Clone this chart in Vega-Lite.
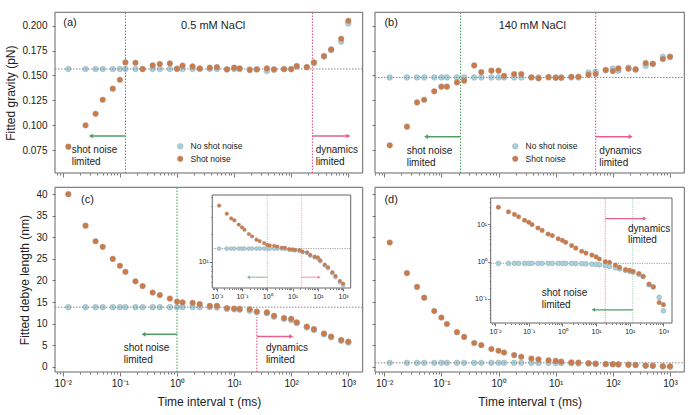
{
"$schema": "https://vega.github.io/schema/vega-lite/v6.json",
"width": 699, "height": 415, "padding": 0, "autosize": {"type": "none"},
"background": "white",
"config": {
  "font": "Liberation Sans",
  "view": {"stroke": null},
  "axis": {"grid": false, "domain": false, "tickColor": "#555", "tickWidth": 0.8, "labelColor": "#222", "titleColor": "#222", "titleFontWeight": "normal", "labelFontSize": 10, "titleFontSize": 12, "labelFont": "Liberation Sans", "titleFont": "Liberation Sans", "labelOverlap": false, "labelFlush": false},
  "text": {"font": "Liberation Sans", "color": "#222"}
},
"datasets": {
  "a": [
    {"tau":0.0125,"no":0.1565,"shot":0.0784},{"tau":0.025,"no":0.1565,"shot":0.0998},{"tau":0.0375,"no":0.1565,"shot":0.1115},{"tau":0.05,"no":0.1565,"shot":0.1256},{"tau":0.075,"no":0.1565,"shot":0.1367},{"tau":0.1,"no":0.1565,"shot":0.1457},{"tau":0.125,"no":0.1565,"shot":0.1631},{"tau":0.1875,"no":0.1565,"shot":0.1628},{"tau":0.25,"no":0.1565,"shot":0.1564},{"tau":0.375,"no":0.1565,"shot":0.1601},{"tau":0.5,"no":0.1565,"shot":0.1615},{"tau":0.75,"no":0.1565,"shot":0.1621},{"tau":1,"no":0.1565,"shot":0.1568},{"tau":1.25,"no":0.1565,"shot":0.1598},{"tau":1.875,"no":0.1565,"shot":0.1591},{"tau":2.5,"no":0.1565,"shot":0.1571},{"tau":3.75,"no":0.1565,"shot":0.1578},{"tau":5,"no":0.1565,"shot":0.1584},{"tau":7.5,"no":0.1562,"shot":0.1561},{"tau":10,"no":0.1565,"shot":0.1578},{"tau":12.5,"no":0.1565,"shot":0.1571},{"tau":18.75,"no":0.1562,"shot":0.1554},{"tau":25,"no":0.1562,"shot":0.1561},{"tau":37.5,"no":0.1545,"shot":0.1571},{"tau":50,"no":0.1558,"shot":0.1561},{"tau":75,"no":0.1562,"shot":0.1564},{"tau":100,"no":0.1562,"shot":0.1564},{"tau":125,"no":0.159,"shot":0.1595},{"tau":187.5,"no":0.1582,"shot":0.1584},{"tau":250,"no":0.1625,"shot":0.1631},{"tau":375,"no":0.169,"shot":0.1695},{"tau":500,"no":0.1755,"shot":0.1762},{"tau":750,"no":0.184,"shot":0.1869},{"tau":1000,"no":0.2023,"shot":0.205}
  ],
  "b": [
    {"tau":0.0125,"no":0.148,"shot":0.0797},{"tau":0.025,"no":0.148,"shot":0.0985},{"tau":0.0375,"no":0.148,"shot":0.1229},{"tau":0.05,"no":0.148,"shot":0.1256},{"tau":0.075,"no":0.148,"shot":0.134},{"tau":0.1,"no":0.148,"shot":0.1387},{"tau":0.125,"no":0.148,"shot":0.1387},{"tau":0.1875,"no":0.148,"shot":0.143},{"tau":0.25,"no":0.148,"shot":0.1447},{"tau":0.375,"no":0.148,"shot":0.1601},{"tau":0.5,"no":0.148,"shot":0.1534},{"tau":0.75,"no":0.148,"shot":0.1548},{"tau":1,"no":0.148,"shot":0.1548},{"tau":1.25,"no":0.148,"shot":0.1497},{"tau":1.875,"no":0.148,"shot":0.1514},{"tau":2.5,"no":0.148,"shot":0.1514},{"tau":3.75,"no":0.148,"shot":0.1481},{"tau":5,"no":0.148,"shot":0.1471},{"tau":7.5,"no":0.148,"shot":0.1484},{"tau":10,"no":0.148,"shot":0.1477},{"tau":12.5,"no":0.148,"shot":0.1477},{"tau":18.75,"no":0.148,"shot":0.1487},{"tau":25,"no":0.148,"shot":0.1487},{"tau":37.5,"no":0.153,"shot":0.1507},{"tau":50,"no":0.1537,"shot":0.1514},{"tau":75,"no":0.1554,"shot":0.1554},{"tau":100,"no":0.1568,"shot":0.1544},{"tau":125,"no":0.1548,"shot":0.1571},{"tau":187.5,"no":0.1578,"shot":0.1568},{"tau":250,"no":0.1561,"shot":0.1561},{"tau":375,"no":0.1598,"shot":0.1625},{"tau":500,"no":0.1615,"shot":0.1618},{"tau":750,"no":0.1688,"shot":0.1665},{"tau":1000,"no":0.1688,"shot":0.1688}
  ],
  "c": [
    {"tau":0.0125,"no":13.8,"shot":40.0},{"tau":0.025,"no":13.8,"shot":32.7},{"tau":0.0375,"no":13.8,"shot":29.1},{"tau":0.05,"no":13.8,"shot":27.8},{"tau":0.075,"no":13.8,"shot":25.0},{"tau":0.1,"no":13.8,"shot":23.4},{"tau":0.125,"no":13.8,"shot":22.0},{"tau":0.1875,"no":13.8,"shot":19.8},{"tau":0.25,"no":13.8,"shot":18.7},{"tau":0.375,"no":13.8,"shot":17.2},{"tau":0.5,"no":13.8,"shot":16.6},{"tau":0.75,"no":13.8,"shot":15.8},{"tau":1,"no":13.8,"shot":15.1},{"tau":1.25,"no":13.8,"shot":14.9},{"tau":1.875,"no":13.8,"shot":14.8},{"tau":2.5,"no":13.8,"shot":14.5},{"tau":3.75,"no":13.8,"shot":14.1},{"tau":5,"no":13.7,"shot":14.1},{"tau":7.5,"no":13.4,"shot":13.6},{"tau":10,"no":13.3,"shot":13.5},{"tau":12.5,"no":13.2,"shot":13.4},{"tau":18.75,"no":13.0,"shot":13.3},{"tau":25,"no":12.6,"shot":12.8},{"tau":37.5,"no":12.4,"shot":12.6},{"tau":50,"no":11.6,"shot":11.8},{"tau":75,"no":11.1,"shot":11.3},{"tau":100,"no":10.8,"shot":11.1},{"tau":125,"no":10.1,"shot":10.3},{"tau":187.5,"no":9.1,"shot":9.3},{"tau":250,"no":8.5,"shot":8.7},{"tau":375,"no":7.5,"shot":7.7},{"tau":500,"no":6.8,"shot":7.0},{"tau":750,"no":6.0,"shot":6.2},{"tau":1000,"no":5.6,"shot":5.8}
  ],
  "d": [
    {"tau":0.0125,"no":0.9,"shot":28.8},{"tau":0.025,"no":0.9,"shot":21.7},{"tau":0.0375,"no":0.9,"shot":18.5},{"tau":0.05,"no":0.9,"shot":16.0},{"tau":0.075,"no":0.9,"shot":12.9},{"tau":0.1,"no":0.9,"shot":11.4},{"tau":0.125,"no":0.9,"shot":9.9},{"tau":0.1875,"no":0.9,"shot":8.0},{"tau":0.25,"no":0.9,"shot":6.9},{"tau":0.375,"no":0.9,"shot":5.5},{"tau":0.5,"no":0.9,"shot":5.0},{"tau":0.75,"no":0.9,"shot":4.1},{"tau":1,"no":0.9,"shot":3.7},{"tau":1.25,"no":0.9,"shot":3.3},{"tau":1.875,"no":0.9,"shot":2.7},{"tau":2.5,"no":0.89,"shot":2.3},{"tau":3.75,"no":0.88,"shot":1.9},{"tau":5,"no":0.87,"shot":1.7},{"tau":7.5,"no":0.86,"shot":1.5},{"tau":10,"no":0.84,"shot":1.34},{"tau":12.5,"no":0.82,"shot":1.18},{"tau":18.75,"no":0.78,"shot":1.0},{"tau":25,"no":0.74,"shot":0.96},{"tau":37.5,"no":0.68,"shot":0.81},{"tau":50,"no":0.64,"shot":0.7},{"tau":75,"no":0.58,"shot":0.61},{"tau":100,"no":0.55,"shot":0.58},{"tau":125,"no":0.52,"shot":0.55},{"tau":187.5,"no":0.46,"shot":0.48},{"tau":250,"no":0.4,"shot":0.4},{"tau":375,"no":0.24,"shot":0.25},{"tau":500,"no":0.21,"shot":0.21},{"tau":750,"no":0.11,"shot":0.08},{"tau":1000,"no":0.048,"shot":0.07}
  ]
},
"resolve": {"scale": {"x": "independent", "y": "independent", "color": "independent"}, "axis": {"x": "independent", "y": "independent"}, "legend": {"color": "independent"}},
"layer": [
  {
    "data": {"name": "a"},
    "layer": [
      {"mark": {"type": "point", "filled": true, "size": 32, "opacity": 1, "stroke": "#999", "strokeWidth": 0.4},
       "encoding": {
         "x": {"field": "tau", "type": "quantitative", "scale": {"type": "log", "domain": [0.0073, 1786], "range": [55, 362.7], "nice": false},
               "axis": {"orient": "bottom", "offset": -242, "values": [0.008,0.009,0.01,0.02,0.03,0.04,0.05,0.06,0.07,0.08,0.09,0.1,0.2,0.3,0.4,0.5,0.6,0.7,0.8,0.9,1,2,3,4,5,6,7,8,9,10,20,30,40,50,60,70,80,90,100,200,300,400,500,600,700,800,900,1000], "labels": false, "title": null,
                        "tickSize": {"condition": {"test": "indexof([0.01,0.1,1,10,100,1000], datum.value) >= 0", "value": 4}, "value": 2}}},
         "y": {"field": "no", "type": "quantitative", "scale": {"domain": [0.0519, 0.2135], "range": [173, 12.3], "nice": false, "zero": false},
               "axis": {"orient": "left", "offset": -55, "values": [0.075, 0.1, 0.125, 0.15, 0.175, 0.2], "format": ".3f", "tickSize": 3, "labelPadding": 5, "title": "Fitted gravity (pN)", "titlePadding": 4}},
         "color": {"datum": "No shot noise", "scale": {"domain": ["No shot noise", "Shot noise"], "range": ["#a6d3df", "#cc7a48"]},
                   "legend": {"orient": "none", "legendX": 176, "legendY": 142, "title": null, "labelFontSize": 8.5, "labelColor": "#222", "symbolType": "circle", "symbolSize": 32, "symbolStrokeColor": "#999", "symbolStrokeWidth": 0.4, "rowPadding": 3.5, "padding": 0, "labelOffset": 6}}
       }},
      {"data": {"values": [{}]}, "mark": {"type": "rect", "filled": false, "stroke": "#666", "strokeWidth": 1},
       "encoding": {"x": {"datum": 0.0073, "type": "quantitative"}, "x2": {"datum": 1786}, "y": {"datum": 0.0519, "type": "quantitative"}, "y2": {"datum": 0.2135}}},
      {"data": {"values": [{"v": 0.1565}]}, "mark": {"type": "rule", "stroke": "#888", "strokeDash": [1.5, 1.5], "strokeWidth": 1},
       "encoding": {"y": {"field": "v", "type": "quantitative"}, "x": {"datum": 0.0073, "type": "quantitative"}, "x2": {"datum": 1786}}},
      {"data": {"values": [{"t": 0.125}]}, "mark": {"type": "rule", "stroke": "#3f9b53", "strokeDash": [1.5, 1.5], "strokeWidth": 1},
       "encoding": {"x": {"field": "t", "type": "quantitative"}, "y": {"datum": 0.0519, "type": "quantitative"}, "y2": {"datum": 0.2135}}},
      {"data": {"values": [{"t": 235}]}, "mark": {"type": "rule", "stroke": "#e2457a", "strokeDash": [1.5, 1.5], "strokeWidth": 1},
       "encoding": {"x": {"field": "t", "type": "quantitative"}, "y": {"datum": 0.0519, "type": "quantitative"}, "y2": {"datum": 0.2135}}},
      {"data": {"values": [{"x1": 0.125, "x2": 0.031, "y": 0.0891}]}, "layer": [
        {"mark": {"type": "rule", "stroke": "#4f9e62", "strokeWidth": 1.5}, "encoding": {"x": {"field": "x1", "type": "quantitative"}, "x2": {"field": "x2"}, "y": {"field": "y", "type": "quantitative"}}},
        {"mark": {"type": "point", "shape": "triangle-left", "filled": true, "size": 22, "color": "#4f9e62", "opacity": 1}, "encoding": {"x": {"field": "x2", "type": "quantitative"}, "y": {"field": "y", "type": "quantitative"}}}
      ]},
      {"data": {"values": [{"x1": 235, "x2": 1000, "y": 0.0891}]}, "layer": [
        {"mark": {"type": "rule", "stroke": "#e8608a", "strokeWidth": 1.5}, "encoding": {"x": {"field": "x1", "type": "quantitative"}, "x2": {"field": "x2"}, "y": {"field": "y", "type": "quantitative"}}},
        {"mark": {"type": "point", "shape": "triangle-right", "filled": true, "size": 22, "color": "#e8608a", "opacity": 1}, "encoding": {"x": {"field": "x2", "type": "quantitative"}, "y": {"field": "y", "type": "quantitative"}}}
      ]},
      {"data": {"values": [{"x": 0.0143, "y": 0.075, "t": "shot noise"}, {"x": 0.0143, "y": 0.0626, "t": "limited"}, {"x": 268, "y": 0.075, "t": "dynamics"}, {"x": 268, "y": 0.0626, "t": "limited"}]},
       "mark": {"type": "text", "align": "left", "baseline": "middle", "fontSize": 10},
       "encoding": {"x": {"field": "x", "type": "quantitative"}, "y": {"field": "y", "type": "quantitative"}, "text": {"field": "t"}}},
      {"data": {"values": [{"x": 0.0102, "y": 0.2027, "t": "(a)"}]},
       "mark": {"type": "text", "align": "left", "baseline": "middle", "fontSize": 11},
       "encoding": {"x": {"field": "x", "type": "quantitative"}, "y": {"field": "y", "type": "quantitative"}, "text": {"field": "t"}}},
      {"data": {"values": [{"x": 4.3, "y": 0.2, "t": "0.5 mM NaCl"}]},
       "mark": {"type": "text", "align": "center", "baseline": "middle", "fontSize": 11},
       "encoding": {"x": {"field": "x", "type": "quantitative"}, "y": {"field": "y", "type": "quantitative"}, "text": {"field": "t"}}},
      {"mark": {"type": "point", "filled": true, "size": 32, "opacity": 1, "stroke": "#999", "strokeWidth": 0.4},
       "encoding": {"x": {"field": "tau", "type": "quantitative"}, "y": {"field": "shot", "type": "quantitative"}, "color": {"datum": "Shot noise"}}}
    ]
  },
  {
    "data": {"name": "b"},
    "layer": [
      {"mark": {"type": "point", "filled": true, "size": 32, "opacity": 1, "stroke": "#999", "strokeWidth": 0.4},
       "encoding": {
         "x": {"field": "tau", "type": "quantitative", "scale": {"type": "log", "domain": [0.0069, 1778], "range": [375, 684.3], "nice": false},
               "axis": {"orient": "bottom", "offset": -242, "values": [0.007,0.008,0.009,0.01,0.02,0.03,0.04,0.05,0.06,0.07,0.08,0.09,0.1,0.2,0.3,0.4,0.5,0.6,0.7,0.8,0.9,1,2,3,4,5,6,7,8,9,10,20,30,40,50,60,70,80,90,100,200,300,400,500,600,700,800,900,1000], "labels": false, "title": null,
                        "tickSize": {"condition": {"test": "indexof([0.01,0.1,1,10,100,1000], datum.value) >= 0", "value": 4}, "value": 2}}},
         "y": {"field": "no", "type": "quantitative", "scale": {"domain": [0.0519, 0.2135], "range": [173, 12.3], "nice": false, "zero": false},
               "axis": {"orient": "left", "offset": -375, "values": [0.075, 0.1, 0.125, 0.15, 0.175, 0.2], "labels": false, "tickSize": 3, "title": null}},
         "color": {"datum": "No shot noise", "scale": {"domain": ["No shot noise", "Shot noise"], "range": ["#a6d3df", "#cc7a48"]},
                   "legend": {"orient": "none", "legendX": 511, "legendY": 142, "title": null, "labelFontSize": 8.5, "labelColor": "#222", "symbolType": "circle", "symbolSize": 32, "symbolStrokeColor": "#999", "symbolStrokeWidth": 0.4, "rowPadding": 3.5, "padding": 0, "labelOffset": 6}}
       }},
      {"data": {"values": [{}]}, "mark": {"type": "rect", "filled": false, "stroke": "#666", "strokeWidth": 1},
       "encoding": {"x": {"datum": 0.0069, "type": "quantitative"}, "x2": {"datum": 1778}, "y": {"datum": 0.0519, "type": "quantitative"}, "y2": {"datum": 0.2135}}},
      {"data": {"values": [{"v": 0.148}]}, "mark": {"type": "rule", "stroke": "#888", "strokeDash": [1.5, 1.5], "strokeWidth": 1},
       "encoding": {"y": {"field": "v", "type": "quantitative"}, "x": {"datum": 0.0069, "type": "quantitative"}, "x2": {"datum": 1778}}},
      {"data": {"values": [{"t": 0.217}]}, "mark": {"type": "rule", "stroke": "#3f9b53", "strokeDash": [1.5, 1.5], "strokeWidth": 1},
       "encoding": {"x": {"field": "t", "type": "quantitative"}, "y": {"datum": 0.0519, "type": "quantitative"}, "y2": {"datum": 0.2135}}},
      {"data": {"values": [{"t": 50}]}, "mark": {"type": "rule", "stroke": "#e2457a", "strokeDash": [1.5, 1.5], "strokeWidth": 1},
       "encoding": {"x": {"field": "t", "type": "quantitative"}, "y": {"datum": 0.0519, "type": "quantitative"}, "y2": {"datum": 0.2135}}},
      {"data": {"values": [{"x1": 0.217, "x2": 0.054, "y": 0.0884}]}, "layer": [
        {"mark": {"type": "rule", "stroke": "#4f9e62", "strokeWidth": 1.5}, "encoding": {"x": {"field": "x1", "type": "quantitative"}, "x2": {"field": "x2"}, "y": {"field": "y", "type": "quantitative"}}},
        {"mark": {"type": "point", "shape": "triangle-left", "filled": true, "size": 22, "color": "#4f9e62", "opacity": 1}, "encoding": {"x": {"field": "x2", "type": "quantitative"}, "y": {"field": "y", "type": "quantitative"}}}
      ]},
      {"data": {"values": [{"x1": 50, "x2": 205, "y": 0.0884}]}, "layer": [
        {"mark": {"type": "rule", "stroke": "#e8608a", "strokeWidth": 1.5}, "encoding": {"x": {"field": "x1", "type": "quantitative"}, "x2": {"field": "x2"}, "y": {"field": "y", "type": "quantitative"}}},
        {"mark": {"type": "point", "shape": "triangle-right", "filled": true, "size": 22, "color": "#e8608a", "opacity": 1}, "encoding": {"x": {"field": "x2", "type": "quantitative"}, "y": {"field": "y", "type": "quantitative"}}}
      ]},
      {"data": {"values": [{"x": 0.0247, "y": 0.074, "t": "shot noise"}, {"x": 0.0247, "y": 0.0623, "t": "limited"}, {"x": 58, "y": 0.074, "t": "dynamics"}, {"x": 58, "y": 0.0623, "t": "limited"}]},
       "mark": {"type": "text", "align": "left", "baseline": "middle", "fontSize": 10},
       "encoding": {"x": {"field": "x", "type": "quantitative"}, "y": {"field": "y", "type": "quantitative"}, "text": {"field": "t"}}},
      {"data": {"values": [{"x": 0.0101, "y": 0.2027, "t": "(b)"}]},
       "mark": {"type": "text", "align": "left", "baseline": "middle", "fontSize": 11},
       "encoding": {"x": {"field": "x", "type": "quantitative"}, "y": {"field": "y", "type": "quantitative"}, "text": {"field": "t"}}},
      {"data": {"values": [{"x": 3.9, "y": 0.2, "t": "140 mM NaCl"}]},
       "mark": {"type": "text", "align": "center", "baseline": "middle", "fontSize": 11},
       "encoding": {"x": {"field": "x", "type": "quantitative"}, "y": {"field": "y", "type": "quantitative"}, "text": {"field": "t"}}},
      {"mark": {"type": "point", "filled": true, "size": 32, "opacity": 1, "stroke": "#999", "strokeWidth": 0.4},
       "encoding": {"x": {"field": "tau", "type": "quantitative"}, "y": {"field": "shot", "type": "quantitative"}, "color": {"datum": "Shot noise"}}}
    ]
  },
  {
    "data": {"name": "c"},
    "layer": [
      {"mark": {"type": "point", "filled": true, "size": 32, "opacity": 1, "fill": "#a6d3df", "stroke": "#999", "strokeWidth": 0.4},
       "encoding": {
         "x": {"field": "tau", "type": "quantitative", "scale": {"type": "log", "domain": [0.0073, 1786], "range": [55, 362.7], "nice": false},
               "axis": {"orient": "bottom", "offset": -43, "values": [0.008,0.009,0.01,0.02,0.03,0.04,0.05,0.06,0.07,0.08,0.09,0.1,0.2,0.3,0.4,0.5,0.6,0.7,0.8,0.9,1,2,3,4,5,6,7,8,9,10,20,30,40,50,60,70,80,90,100,200,300,400,500,600,700,800,900,1000],
                        "labelExpr": "datum.value == 0.01 ? '10⁻²' : datum.value == 0.1 ? '10⁻¹' : datum.value == 1 ? '10⁰' : datum.value == 10 ? '10¹' : datum.value == 100 ? '10²' : datum.value == 1000 ? '10³' : ''",
                        "labelPadding": 2, "title": "Time interval τ (ms)", "titlePadding": 8,
                        "tickSize": {"condition": {"test": "indexof([0.01,0.1,1,10,100,1000], datum.value) >= 0", "value": 4}, "value": 2}}},
         "y": {"field": "no", "type": "quantitative", "scale": {"domain": [-1.23, 41.6], "range": [372, 187.3], "nice": false, "zero": false},
               "axis": {"orient": "left", "offset": -55, "values": [0, 5, 10, 15, 20, 25, 30, 35, 40], "format": "d", "tickSize": 3, "labelPadding": 5, "title": "Fitted debye length (nm)", "titlePadding": 4}}
       }},
      {"data": {"values": [{}]}, "mark": {"type": "rect", "filled": false, "stroke": "#666", "strokeWidth": 1},
       "encoding": {"x": {"datum": 0.0073, "type": "quantitative"}, "x2": {"datum": 1786}, "y": {"datum": -1.23, "type": "quantitative"}, "y2": {"datum": 41.6}}},
      {"data": {"values": [{"v": 13.8}]}, "mark": {"type": "rule", "stroke": "#888", "strokeDash": [1.5, 1.5], "strokeWidth": 1},
       "encoding": {"y": {"field": "v", "type": "quantitative"}, "x": {"datum": 0.0073, "type": "quantitative"}, "x2": {"datum": 1786}}},
      {"data": {"values": [{"t": 1}]}, "mark": {"type": "rule", "stroke": "#3f9b53", "strokeDash": [1.5, 1.5], "strokeWidth": 1},
       "encoding": {"x": {"field": "t", "type": "quantitative"}, "y": {"datum": -1.23, "type": "quantitative"}, "y2": {"datum": 41.6}}},
      {"data": {"values": [{"t": 25}]}, "mark": {"type": "rule", "stroke": "#e2457a", "strokeDash": [1.5, 1.5], "strokeWidth": 1},
       "encoding": {"x": {"field": "t", "type": "quantitative"}, "y": {"datum": -1.23, "type": "quantitative"}, "y2": {"datum": 11.5}}},
      {"data": {"values": [{"x1": 1, "x2": 0.26, "y": 7.5}]}, "layer": [
        {"mark": {"type": "rule", "stroke": "#4f9e62", "strokeWidth": 1.5}, "encoding": {"x": {"field": "x1", "type": "quantitative"}, "x2": {"field": "x2"}, "y": {"field": "y", "type": "quantitative"}}},
        {"mark": {"type": "point", "shape": "triangle-left", "filled": true, "size": 22, "color": "#4f9e62", "opacity": 1}, "encoding": {"x": {"field": "x2", "type": "quantitative"}, "y": {"field": "y", "type": "quantitative"}}}
      ]},
      {"data": {"values": [{"x1": 25, "x2": 100, "y": 7.0}]}, "layer": [
        {"mark": {"type": "rule", "stroke": "#e8608a", "strokeWidth": 1.5}, "encoding": {"x": {"field": "x1", "type": "quantitative"}, "x2": {"field": "x2"}, "y": {"field": "y", "type": "quantitative"}}},
        {"mark": {"type": "point", "shape": "triangle-right", "filled": true, "size": 22, "color": "#e8608a", "opacity": 1}, "encoding": {"x": {"field": "x2", "type": "quantitative"}, "y": {"field": "y", "type": "quantitative"}}}
      ]},
      {"data": {"values": [{"x": 0.117, "y": 4.27, "t": "shot noise"}, {"x": 0.117, "y": 1.48, "t": "limited"}, {"x": 36, "y": 4.27, "t": "dynamics"}, {"x": 36, "y": 1.48, "t": "limited"}]},
       "mark": {"type": "text", "align": "left", "baseline": "middle", "fontSize": 10},
       "encoding": {"x": {"field": "x", "type": "quantitative"}, "y": {"field": "y", "type": "quantitative"}, "text": {"field": "t"}}},
      {"data": {"values": [{"x": 0.0208, "y": 38.6, "t": "(c)"}]},
       "mark": {"type": "text", "align": "left", "baseline": "middle", "fontSize": 11},
       "encoding": {"x": {"field": "x", "type": "quantitative"}, "y": {"field": "y", "type": "quantitative"}, "text": {"field": "t"}}},
      {"mark": {"type": "point", "filled": true, "size": 32, "opacity": 1, "fill": "#cc7a48", "stroke": "#999", "strokeWidth": 0.4},
       "encoding": {"x": {"field": "tau", "type": "quantitative"}, "y": {"field": "shot", "type": "quantitative"}}}
    ]
  },
  {
    "data": {"name": "d"},
    "layer": [
      {"mark": {"type": "point", "filled": true, "size": 32, "opacity": 1, "fill": "#a6d3df", "stroke": "#999", "strokeWidth": 0.4},
       "encoding": {
         "x": {"field": "tau", "type": "quantitative", "scale": {"type": "log", "domain": [0.0069, 1778], "range": [375, 684.3], "nice": false},
               "axis": {"orient": "bottom", "offset": -43, "values": [0.007,0.008,0.009,0.01,0.02,0.03,0.04,0.05,0.06,0.07,0.08,0.09,0.1,0.2,0.3,0.4,0.5,0.6,0.7,0.8,0.9,1,2,3,4,5,6,7,8,9,10,20,30,40,50,60,70,80,90,100,200,300,400,500,600,700,800,900,1000],
                        "labelExpr": "datum.value == 0.01 ? '10⁻²' : datum.value == 0.1 ? '10⁻¹' : datum.value == 1 ? '10⁰' : datum.value == 10 ? '10¹' : datum.value == 100 ? '10²' : datum.value == 1000 ? '10³' : ''",
                        "labelPadding": 2, "title": "Time interval τ (ms)", "titlePadding": 8,
                        "tickSize": {"condition": {"test": "indexof([0.01,0.1,1,10,100,1000], datum.value) >= 0", "value": 4}, "value": 2}}},
         "y": {"field": "no", "type": "quantitative", "scale": {"domain": [-1.23, 41.6], "range": [372, 187.3], "nice": false, "zero": false},
               "axis": {"orient": "left", "offset": -375, "values": [0, 5, 10, 15, 20, 25, 30, 35, 40], "labels": false, "tickSize": 3, "title": null}}
       }},
      {"data": {"values": [{}]}, "mark": {"type": "rect", "filled": false, "stroke": "#666", "strokeWidth": 1},
       "encoding": {"x": {"datum": 0.0069, "type": "quantitative"}, "x2": {"datum": 1778}, "y": {"datum": -1.23, "type": "quantitative"}, "y2": {"datum": 41.6}}},
      {"data": {"values": [{"v": 0.9}]}, "mark": {"type": "rule", "stroke": "#888", "strokeDash": [1.5, 1.5], "strokeWidth": 1},
       "encoding": {"y": {"field": "v", "type": "quantitative"}, "x": {"datum": 0.0069, "type": "quantitative"}, "x2": {"datum": 1778}}},
      {"data": {"values": [{"x": 0.0101, "y": 38.6, "t": "(d)"}]},
       "mark": {"type": "text", "align": "left", "baseline": "middle", "fontSize": 11},
       "encoding": {"x": {"field": "x", "type": "quantitative"}, "y": {"field": "y", "type": "quantitative"}, "text": {"field": "t"}}},
      {"mark": {"type": "point", "filled": true, "size": 32, "opacity": 1, "fill": "#cc7a48", "stroke": "#999", "strokeWidth": 0.4},
       "encoding": {"x": {"field": "tau", "type": "quantitative"}, "y": {"field": "shot", "type": "quantitative"}}}
    ]
  },
  {
    "data": {"name": "c"},
    "layer": [
      {"data": {"values": [{}]}, "mark": {"type": "rect", "fill": "white", "stroke": "#666", "strokeWidth": 1},
       "encoding": {"x": {"datum": 0.0067, "type": "quantitative"}, "x2": {"datum": 1995}, "y": {"datum": 5.2, "type": "quantitative"}, "y2": {"datum": 52}}},
      {"mark": {"type": "point", "filled": true, "size": 14, "opacity": 1, "fill": "#a6d3df", "stroke": "#999", "strokeWidth": 0.3},
       "encoding": {
         "x": {"field": "tau", "type": "quantitative", "scale": {"type": "log", "domain": [0.0067, 1995], "range": [212.3, 350.7], "nice": false},
               "axis": {"orient": "bottom", "offset": -127, "values": [0.007,0.008,0.009,0.01,0.02,0.03,0.04,0.05,0.06,0.07,0.08,0.09,0.1,0.2,0.3,0.4,0.5,0.6,0.7,0.8,0.9,1,2,3,4,5,6,7,8,9,10,20,30,40,50,60,70,80,90,100,200,300,400,500,600,700,800,900,1000],
                        "labelExpr": "datum.value == 0.01 ? '10⁻²' : datum.value == 0.1 ? '10⁻¹' : datum.value == 1 ? '10⁰' : datum.value == 10 ? '10¹' : datum.value == 100 ? '10²' : datum.value == 1000 ? '10³' : ''",
                        "labelFontSize": 7, "labelPadding": 1, "title": null,
                        "tickSize": {"condition": {"test": "indexof([0.01,0.1,1,10,100,1000], datum.value) >= 0", "value": 3}, "value": 1.5}}},
         "y": {"field": "no", "type": "quantitative", "scale": {"type": "log", "domain": [5.2, 52], "range": [288, 195], "nice": false},
               "axis": {"orient": "left", "offset": -212.3, "values": [6, 7, 8, 9, 10, 20, 30, 40, 50], "labelExpr": "datum.value == 10 ? '10¹' : ''", "labelFontSize": 7, "labelPadding": 1, "title": null,
                        "tickSize": {"condition": {"test": "datum.value == 10", "value": 3}, "value": 1.5}}}
       }},
      {"data": {"values": [{"v": 13.8}]}, "mark": {"type": "rule", "stroke": "#888", "strokeDash": [1.2, 1.2], "strokeWidth": 0.8},
       "encoding": {"y": {"field": "v", "type": "quantitative"}, "x": {"datum": 0.0067, "type": "quantitative"}, "x2": {"datum": 1995}}},
      {"data": {"values": [{"t": 1}]}, "mark": {"type": "rule", "stroke": "#3f9b53", "strokeDash": [1.2, 1.2], "strokeWidth": 0.8, "opacity": 0.6},
       "encoding": {"x": {"field": "t", "type": "quantitative"}, "y": {"datum": 5.2, "type": "quantitative"}, "y2": {"datum": 52}}},
      {"data": {"values": [{"t": 23}]}, "mark": {"type": "rule", "stroke": "#e2457a", "strokeDash": [1.2, 1.2], "strokeWidth": 0.8, "opacity": 0.6},
       "encoding": {"x": {"field": "t", "type": "quantitative"}, "y": {"datum": 5.2, "type": "quantitative"}, "y2": {"datum": 52}}},
      {"data": {"values": [{"x1": 1, "x2": 0.18, "y": 6.8}]}, "layer": [
        {"mark": {"type": "rule", "stroke": "#4f9e62", "strokeWidth": 1, "opacity": 0.7}, "encoding": {"x": {"field": "x1", "type": "quantitative"}, "x2": {"field": "x2"}, "y": {"field": "y", "type": "quantitative"}}},
        {"mark": {"type": "point", "shape": "triangle-left", "filled": true, "size": 12, "color": "#4f9e62", "opacity": 0.7}, "encoding": {"x": {"field": "x2", "type": "quantitative"}, "y": {"field": "y", "type": "quantitative"}}}
      ]},
      {"data": {"values": [{"x1": 23, "x2": 113, "y": 6.8}]}, "layer": [
        {"mark": {"type": "rule", "stroke": "#e8608a", "strokeWidth": 1, "opacity": 0.7}, "encoding": {"x": {"field": "x1", "type": "quantitative"}, "x2": {"field": "x2"}, "y": {"field": "y", "type": "quantitative"}}},
        {"mark": {"type": "point", "shape": "triangle-right", "filled": true, "size": 12, "color": "#e8608a", "opacity": 0.7}, "encoding": {"x": {"field": "x2", "type": "quantitative"}, "y": {"field": "y", "type": "quantitative"}}}
      ]},
      {"mark": {"type": "point", "filled": true, "size": 14, "opacity": 1, "fill": "#a6d3df", "stroke": "#999", "strokeWidth": 0.3},
       "encoding": {"x": {"field": "tau", "type": "quantitative"}, "y": {"field": "no", "type": "quantitative"}}},
      {"mark": {"type": "point", "filled": true, "size": 14, "opacity": 1, "fill": "#cc7a48", "stroke": "#999", "strokeWidth": 0.3},
       "encoding": {"x": {"field": "tau", "type": "quantitative"}, "y": {"field": "shot", "type": "quantitative"}}}
    ]
  },
  {
    "data": {"name": "d"},
    "layer": [
      {"data": {"values": [{}]}, "mark": {"type": "rect", "fill": "white", "stroke": "#666", "strokeWidth": 1},
       "encoding": {"x": {"datum": 0.0074, "type": "quantitative"}, "x2": {"datum": 1800}, "y": {"datum": 0.0226, "type": "quantitative"}, "y2": {"datum": 51}}},
      {"mark": {"type": "point", "filled": true, "size": 22, "opacity": 1, "fill": "#a6d3df", "stroke": "#999", "strokeWidth": 0.3},
       "encoding": {
         "x": {"field": "tau", "type": "quantitative", "scale": {"type": "log", "domain": [0.0074, 1800], "range": [490.7, 672], "nice": false},
               "axis": {"orient": "bottom", "offset": -92, "values": [0.008,0.009,0.01,0.02,0.03,0.04,0.05,0.06,0.07,0.08,0.09,0.1,0.2,0.3,0.4,0.5,0.6,0.7,0.8,0.9,1,2,3,4,5,6,7,8,9,10,20,30,40,50,60,70,80,90,100,200,300,400,500,600,700,800,900,1000],
                        "labelExpr": "datum.value == 0.01 ? '10⁻²' : datum.value == 0.1 ? '10⁻¹' : datum.value == 1 ? '10⁰' : datum.value == 10 ? '10¹' : datum.value == 100 ? '10²' : datum.value == 1000 ? '10³' : ''",
                        "labelFontSize": 7, "labelPadding": 1, "title": null,
                        "tickSize": {"condition": {"test": "indexof([0.01,0.1,1,10,100,1000], datum.value) >= 0", "value": 3}, "value": 1.5}}},
         "y": {"field": "no", "type": "quantitative", "scale": {"type": "log", "domain": [0.0226, 51], "range": [323, 198], "nice": false},
               "axis": {"orient": "left", "offset": -490.7, "values": [0.03,0.04,0.05,0.06,0.07,0.08,0.09,0.1,0.2,0.3,0.4,0.5,0.6,0.7,0.8,0.9,1,2,3,4,5,6,7,8,9,10,20,30,40,50], "labelExpr": "datum.value == 0.1 ? '10⁻¹' : datum.value == 1 ? '10⁰' : datum.value == 10 ? '10¹' : ''", "labelFontSize": 7, "labelPadding": 1, "title": null,
                        "tickSize": {"condition": {"test": "indexof([0.1,1,10], datum.value) >= 0", "value": 3}, "value": 1.5}}}
       }},
      {"data": {"values": [{"v": 0.9}]}, "mark": {"type": "rule", "stroke": "#888", "strokeDash": [1.2, 1.2], "strokeWidth": 0.8},
       "encoding": {"y": {"field": "v", "type": "quantitative"}, "x": {"datum": 0.0074, "type": "quantitative"}, "x2": {"datum": 1800}}},
      {"data": {"values": [{"t": 123}]}, "mark": {"type": "rule", "stroke": "#3f9b53", "strokeDash": [1.2, 1.2], "strokeWidth": 0.8, "opacity": 0.6},
       "encoding": {"x": {"field": "t", "type": "quantitative"}, "y": {"datum": 0.0226, "type": "quantitative"}, "y2": {"datum": 51}}},
      {"data": {"values": [{"t": 18.7}]}, "mark": {"type": "rule", "stroke": "#e2457a", "strokeDash": [1.2, 1.2], "strokeWidth": 0.8, "opacity": 0.8},
       "encoding": {"x": {"field": "t", "type": "quantitative"}, "y": {"datum": 0.0226, "type": "quantitative"}, "y2": {"datum": 51}}},
      {"data": {"values": [{"x1": 123, "x2": 8.3, "y": 0.051}]}, "layer": [
        {"mark": {"type": "rule", "stroke": "#4f9e62", "strokeWidth": 1.2}, "encoding": {"x": {"field": "x1", "type": "quantitative"}, "x2": {"field": "x2"}, "y": {"field": "y", "type": "quantitative"}}},
        {"mark": {"type": "point", "shape": "triangle-left", "filled": true, "size": 16, "color": "#4f9e62", "opacity": 1}, "encoding": {"x": {"field": "x2", "type": "quantitative"}, "y": {"field": "y", "type": "quantitative"}}}
      ]},
      {"data": {"values": [{"x1": 18.7, "x2": 280, "y": 14.3}]}, "layer": [
        {"mark": {"type": "rule", "stroke": "#e8608a", "strokeWidth": 1.2}, "encoding": {"x": {"field": "x1", "type": "quantitative"}, "x2": {"field": "x2"}, "y": {"field": "y", "type": "quantitative"}}},
        {"mark": {"type": "point", "shape": "triangle-right", "filled": true, "size": 16, "color": "#e8608a", "opacity": 1}, "encoding": {"x": {"field": "x2", "type": "quantitative"}, "y": {"field": "y", "type": "quantitative"}}}
      ]},
      {"data": {"values": [{"x": 88.5, "y": 7.7, "t": "dynamics"}, {"x": 88.5, "y": 3.9, "t": "limited"}, {"x": 0.243, "y": 0.144, "t": "shot noise"}, {"x": 0.243, "y": 0.07, "t": "limited"}]},
       "mark": {"type": "text", "align": "left", "baseline": "middle", "fontSize": 10},
       "encoding": {"x": {"field": "x", "type": "quantitative"}, "y": {"field": "y", "type": "quantitative"}, "text": {"field": "t"}}},
      {"mark": {"type": "point", "filled": true, "size": 22, "opacity": 1, "fill": "#a6d3df", "stroke": "#999", "strokeWidth": 0.3},
       "encoding": {"x": {"field": "tau", "type": "quantitative"}, "y": {"field": "no", "type": "quantitative"}}},
      {"mark": {"type": "point", "filled": true, "size": 22, "opacity": 1, "fill": "#cc7a48", "stroke": "#999", "strokeWidth": 0.3},
       "encoding": {"x": {"field": "tau", "type": "quantitative"}, "y": {"field": "shot", "type": "quantitative"}}}
    ]
  }
]
}
